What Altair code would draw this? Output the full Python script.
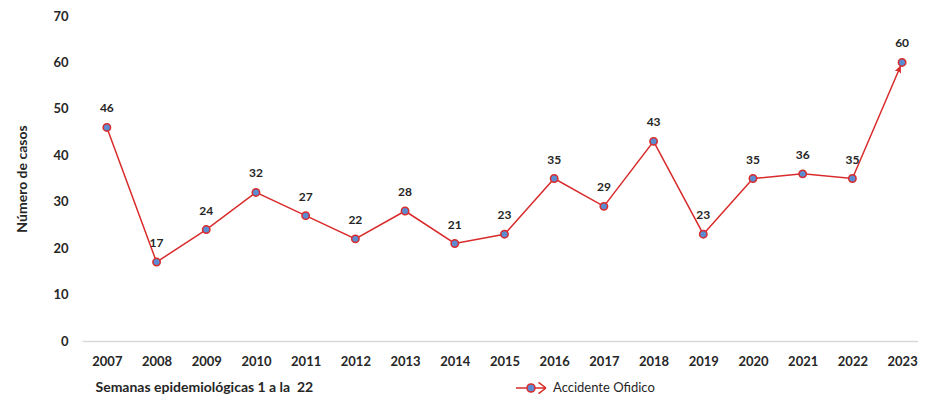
import altair as alt
import pandas as pd

years = [2007, 2008, 2009, 2010, 2011, 2012, 2013, 2014, 2015, 2016, 2017, 2018, 2019, 2020, 2021, 2022, 2023]
cases = [46, 17, 24, 32, 27, 22, 28, 21, 23, 35, 29, 43, 23, 35, 36, 35, 60]
series_name = "Accidente Ofidico"
y_ticks = [0, 10, 20, 30, 40, 50, 60, 70]

df = pd.DataFrame({"year": years, "cases": cases, "serie": [series_name] * len(years)})

FONT = "Lato"
RED = "#D92B2B"
BLUE = "#5B8BD1"
TXT = "#262626"

x = alt.X(
    "year:Q",
    scale=alt.Scale(domain=[2006.5, 2023.32], nice=False, zero=False),
    axis=alt.Axis(
        values=years, format="d", title="Semanas epidemiológicas 1 a la \u00a022",
        labelFont=FONT, labelFontWeight="bold", labelFontSize=13, labelColor=TXT,
        labelPadding=14, labelFlush=False, ticks=False, grid=False,
        domainColor="#d9d9d9", domainWidth=1.5,
        titleFont=FONT, titleFontWeight="bold", titleFontSize=14, titleColor=TXT,
        titleAnchor="start", titleAlign="left", titleBaseline="middle",
        titleX=13, titleY=46,
    ),
)
y = alt.Y(
    "cases:Q",
    scale=alt.Scale(domain=[0, 70], nice=False),
    axis=alt.Axis(
        values=y_ticks, title="Número de casos", grid=False, domain=False, ticks=False,
        labelFont=FONT, labelFontWeight="bold", labelFontSize=13, labelColor=TXT,
        labelPadding=14, titleFont=FONT, titleFontWeight="bold", titleFontSize=14,
        titleColor=TXT, titlePadding=23,
    ),
)

base = alt.Chart(df)

line = base.mark_line(color=RED, strokeWidth=1.5).encode(x=x, y=y)

arrow = base.transform_filter(alt.datum.year == years[-1]).mark_point(
    shape="M0,0.4L0.42,1.35L0,1.15L-0.42,1.35Z", size=256, angle=23,
    filled=True, color=RED, opacity=1,
).encode(x=x, y=y)

legend_path = ("M-1,0L-0.27,0M0.27,0L1,0M0.5,-0.38L1,0M0.5,0.38L1,0"
               "M-0.27,0A0.27,0.27,0,1,0,0.27,0A0.27,0.27,0,1,0,-0.27,0Z")

points = base.mark_point(filled=True, size=55, stroke=RED, strokeWidth=1.5, opacity=1).encode(
    x=x, y=y,
    color=alt.Color(
        "serie:N",
        scale=alt.Scale(domain=[series_name], range=[BLUE]),
        legend=alt.Legend(
            title=None, orient="none", legendX=433, legendY=356,
            symbolType=legend_path, symbolSize=900, symbolStrokeColor=RED,
            symbolStrokeWidth=1.5, symbolFillColor=BLUE, symbolOpacity=1,
            labelFont=FONT, labelFontSize=13, labelColor=TXT, labelOffset=6,
            padding=0,
        ),
    ),
)

labels = base.mark_text(font=FONT, fontWeight="bold", fontSize=12, color=TXT, dy=-19, baseline="middle").encode(
    x=x, y=y, text="cases:Q"
)

chart = alt.layer(line, arrow, points, labels).properties(
    width=836, height=325,
    background="white",
    autosize=alt.AutoSizeParams(type="none"),
    padding={"left": 74, "top": 8, "right": 0, "bottom": 53},
).configure_view(stroke=None, strokeWidth=0)

chart.save("out.html", embed_options={"renderer": "svg", "actions": False})
